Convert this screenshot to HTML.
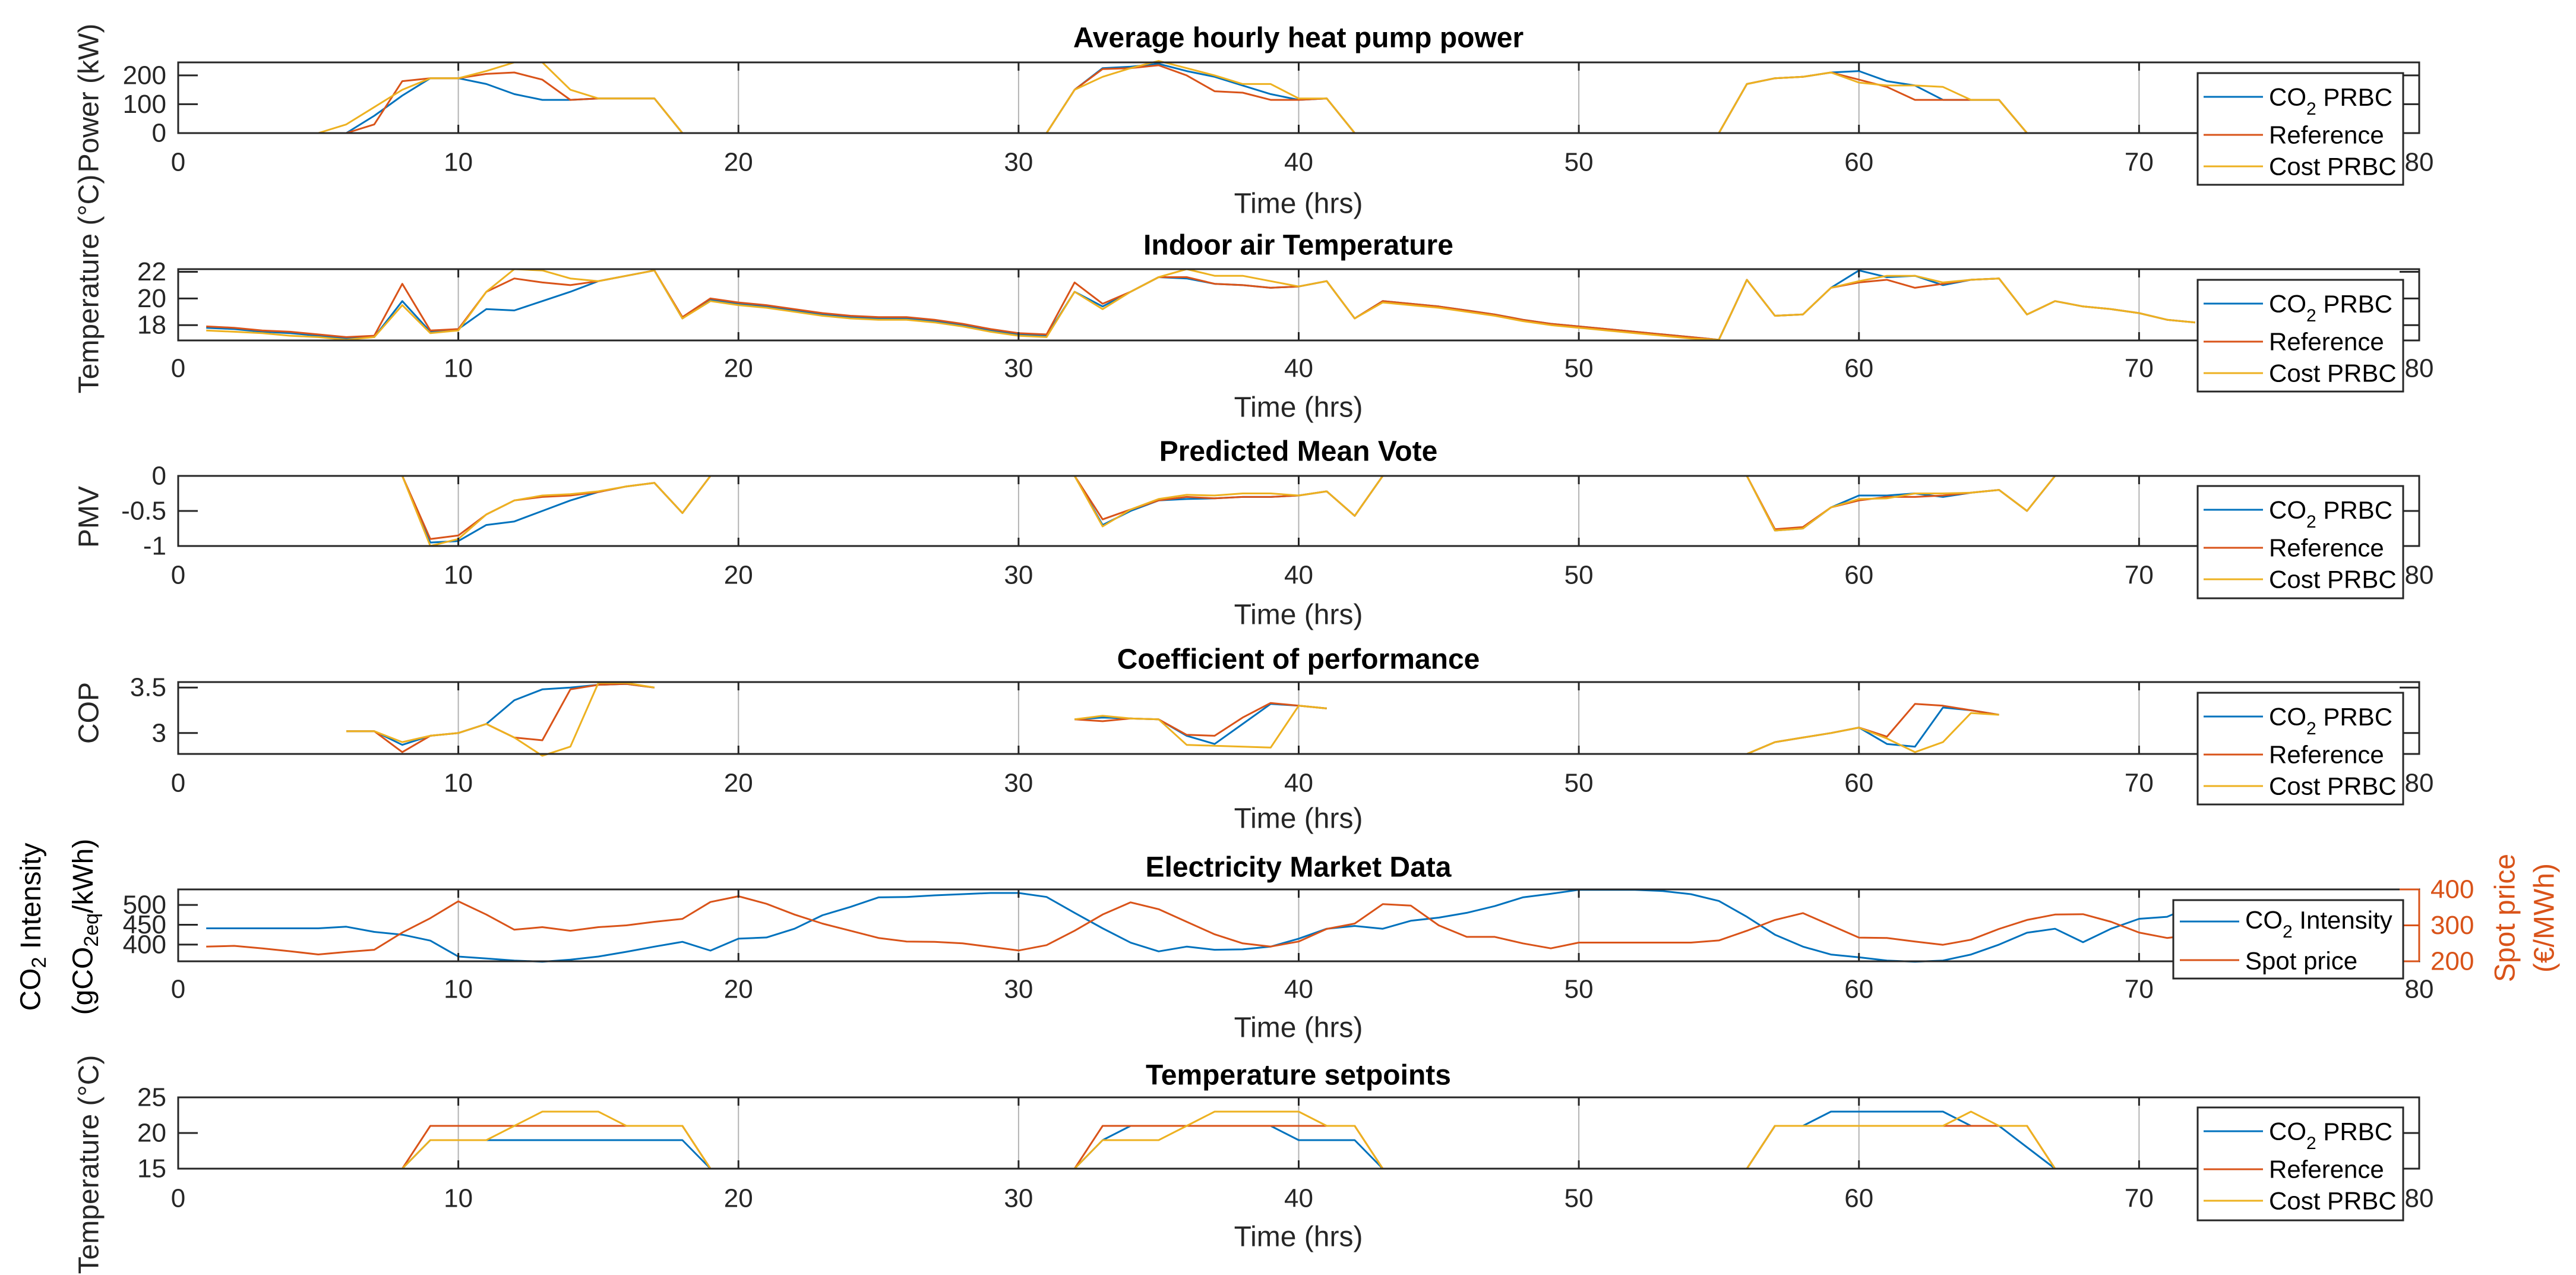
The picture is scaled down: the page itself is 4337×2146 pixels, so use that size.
<!DOCTYPE html>
<html><head><meta charset="utf-8"><style>
html,body{margin:0;padding:0;background:#fff;}
svg{display:block;font-family:"Liberation Sans",Arial,sans-serif;}
</style></head><body>
<svg id="fig" xmlns="http://www.w3.org/2000/svg" width="4337" height="2146" viewBox="0 0 4337 2146"></svg>
<script>
const hours = Array.from({length:72},(_,i)=>i+1);
const N = null;
// Panel 1: power (kW)
const powCO2 = [0,0,0,0,0,0,60,130,190,190,170,135,115,115,120,120,120,0,0,0,0,0,0,0,0,0,0,0,0,0,0,150,225,230,240,215,195,165,135,115,120,0,0,0,0,0,0,0,0,0,0,0,0,0,0,170,190,195,210,215,180,165,115,115,115,0,0,0,0,0,0,0];
const powRef = [0,0,0,0,0,0,30,180,190,190,205,210,185,115,120,120,120,0,0,0,0,0,0,0,0,0,0,0,0,0,0,150,222,225,235,200,145,140,115,115,120,0,0,0,0,0,0,0,0,0,0,0,0,0,0,170,190,195,210,185,160,115,115,115,115,0,0,0,0,0,0,0];
const powCost = [0,0,0,0,0,30,90,150,190,190,215,245,245,150,120,120,120,0,0,0,0,0,0,0,0,0,0,0,0,0,0,150,195,225,250,225,200,170,170,120,120,0,0,0,0,0,0,0,0,0,0,0,0,0,0,170,190,195,210,175,165,165,160,115,115,0,0,0,0,0,0,0];
// Panel 2: indoor temperature
const tCO2 = [17.8,17.7,17.5,17.4,17.2,17.0,17.1,19.8,17.5,17.7,19.2,19.1,19.8,20.5,21.3,21.7,22.1,18.5,19.9,19.6,19.4,19.1,18.8,18.6,18.5,18.5,18.3,18.0,17.6,17.3,17.2,20.5,19.4,20.5,21.6,21.5,21.1,21.0,20.8,20.9,21.3,18.5,19.8,19.6,19.4,19.1,18.8,18.4,18.1,17.9,17.7,17.5,17.3,17.1,16.9,21.4,18.7,18.8,20.8,22.1,21.6,21.7,21.0,21.4,21.5,18.8,19.8,19.4,19.2,18.9,18.4,18.2];
const tRef = [17.9,17.8,17.6,17.5,17.3,17.1,17.2,21.1,17.6,17.7,20.5,21.5,21.2,21.0,21.3,21.7,22.1,18.6,20.0,19.7,19.5,19.2,18.9,18.7,18.6,18.6,18.4,18.1,17.7,17.4,17.3,21.2,19.6,20.5,21.6,21.6,21.1,21.0,20.8,20.9,21.3,18.5,19.8,19.6,19.4,19.1,18.8,18.4,18.1,17.9,17.7,17.5,17.3,17.1,16.9,21.4,18.7,18.8,20.8,21.2,21.4,20.8,21.1,21.4,21.5,18.8,19.8,19.4,19.2,18.9,18.4,18.2];
const tCost = [17.6,17.5,17.4,17.2,17.1,16.9,17.1,19.5,17.4,17.6,20.5,22.2,22.1,21.5,21.3,21.7,22.1,18.5,19.8,19.5,19.3,19.0,18.7,18.5,18.4,18.4,18.2,17.9,17.5,17.2,17.1,20.5,19.2,20.5,21.6,22.2,21.7,21.7,21.3,20.9,21.3,18.5,19.7,19.5,19.3,19.0,18.7,18.3,18.0,17.8,17.6,17.4,17.2,17.0,16.9,21.4,18.7,18.8,20.8,21.3,21.7,21.7,21.2,21.4,21.5,18.8,19.8,19.4,19.2,18.9,18.4,18.2];
// Panel 3: PMV
const pmvCO2 = [0,0,0,0,0,0,0,0,-0.95,-0.93,-0.7,-0.65,-0.5,-0.35,-0.23,-0.15,-0.1,-0.53,0,0,0,0,0,0,0,0,0,0,0,0,0,0,-0.7,-0.5,-0.35,-0.33,-0.32,-0.3,-0.3,-0.28,-0.22,-0.57,0,0,0,0,0,0,0,0,0,0,0,0,0,0,-0.78,-0.75,-0.45,-0.28,-0.28,-0.25,-0.3,-0.24,-0.2,-0.5,0,0,0,0,0,0];
const pmvRef = [0,0,0,0,0,0,0,0,-0.9,-0.85,-0.55,-0.35,-0.3,-0.28,-0.23,-0.15,-0.1,-0.53,0,0,0,0,0,0,0,0,0,0,0,0,0,0,-0.62,-0.48,-0.35,-0.3,-0.32,-0.3,-0.3,-0.28,-0.22,-0.57,0,0,0,0,0,0,0,0,0,0,0,0,0,0,-0.76,-0.73,-0.45,-0.35,-0.3,-0.3,-0.28,-0.24,-0.2,-0.5,0,0,0,0,0,0];
const pmvCost = [0,0,0,0,0,0,0,0,-1.0,-0.9,-0.55,-0.35,-0.28,-0.26,-0.22,-0.15,-0.1,-0.53,0,0,0,0,0,0,0,0,0,0,0,0,0,0,-0.72,-0.48,-0.33,-0.27,-0.28,-0.25,-0.25,-0.28,-0.22,-0.57,0,0,0,0,0,0,0,0,0,0,0,0,0,0,-0.78,-0.75,-0.45,-0.33,-0.32,-0.25,-0.25,-0.24,-0.2,-0.5,0,0,0,0,0,0];
// Panel 4: COP
const copCO2 = [N,N,N,N,N,3.02,3.02,2.87,2.97,3.0,3.1,3.36,3.48,3.5,3.53,3.54,3.5,N,N,N,N,N,N,N,N,N,N,N,N,N,N,3.15,3.17,3.16,3.15,2.97,2.88,3.1,3.32,3.3,3.27,N,N,N,N,N,N,N,N,N,N,N,N,N,N,2.77,2.9,2.95,3.0,3.06,2.88,2.85,3.28,3.25,3.2,N,N,N,N,N,N,N];
const copRef = [N,N,N,N,N,3.02,3.02,2.79,2.97,3.0,3.1,2.95,2.92,3.48,3.53,3.54,3.5,N,N,N,N,N,N,N,N,N,N,N,N,N,N,3.15,3.13,3.16,3.15,2.98,2.97,3.17,3.33,3.3,3.27,N,N,N,N,N,N,N,N,N,N,N,N,N,N,2.77,2.9,2.95,3.0,3.06,2.96,3.32,3.3,3.25,3.2,N,N,N,N,N,N,N];
const copCost = [N,N,N,N,N,3.02,3.02,2.9,2.97,3.0,3.1,2.95,2.75,2.85,3.55,3.55,3.5,N,N,N,N,N,N,N,N,N,N,N,N,N,N,3.15,3.19,3.16,3.15,2.87,2.86,2.85,2.84,3.3,3.27,N,N,N,N,N,N,N,N,N,N,N,N,N,N,2.77,2.9,2.95,3.0,3.06,2.94,2.79,2.9,3.22,3.2,N,N,N,N,N,N,N];
// Panel 5: market
const co2Int = [441,441,441,441,441,445,432,425,410,370,365,360,357,362,370,382,395,407,385,415,418,440,474,495,519,520,524,527,530,530,520,480,441,405,383,395,387,388,395,415,440,447,440,460,468,480,497,519,528,538,538,538,535,527,510,470,425,395,375,368,360,357,360,375,400,430,440,406,440,465,470,500];
const spot = [241,243,236,228,219,226,232,280,320,367,330,288,295,285,295,300,310,318,365,381,360,330,305,285,265,255,254,250,240,230,245,285,330,364,345,310,275,250,241,255,290,305,359,355,300,268,268,250,236,252,252,252,252,252,258,285,315,334,300,266,265,255,246,260,290,315,330,331,310,280,265,274];
// Panel 6: setpoints
const spCO2 = [15,15,15,15,15,15,15,15,19,19,19,19,19,19,19,19,19,19,15,15,15,15,15,15,15,15,15,15,15,15,15,15,19,21,21,21,21,21,21,19,19,19,15,15,15,15,15,15,15,15,15,15,15,15,15,15,21,21,23,23,23,23,23,21,21,18,15,15,15,15,15,15];
const spRef = [15,15,15,15,15,15,15,15,21,21,21,21,21,21,21,21,21,21,15,15,15,15,15,15,15,15,15,15,15,15,15,15,21,21,21,21,21,21,21,21,21,21,15,15,15,15,15,15,15,15,15,15,15,15,15,15,21,21,21,21,21,21,21,21,21,21,15,15,15,15,15,15];
const spCost = [15,15,15,15,15,15,15,15,19,19,19,21,23,23,23,21,21,21,15,15,15,15,15,15,15,15,15,15,15,15,15,15,19,19,19,21,23,23,23,23,21,21,15,15,15,15,15,15,15,15,15,15,15,15,15,15,21,21,21,21,21,21,21,23,21,21,15,15,15,15,15,15];
const xTicks = [0,10,20,30,40,50,60,70,80];

const C_BLUE="#0072BD", C_RED="#D95319", C_YEL="#EDB120";
const svg=document.getElementById('fig');
const NS="http://www.w3.org/2000/svg";
const X0=300, X1=4073;
function xs(v){return X0+(v-0)/(80-0)*(X1-X0);}
function mk(tag,attrs,parent){const e=document.createElementNS(NS,tag);for(const k in attrs)e.setAttribute(k,attrs[k]);(parent||svg).appendChild(e);return e;}
function txt(s,x,y,size,opts,parent){opts=opts||{};const t=mk('text',{x:x,y:y,'font-size':size,'text-anchor':opts.anchor||'middle','dominant-baseline':'central',fill:opts.fill||'#262626'},parent);if(opts.bold)t.setAttribute('font-weight','bold');if(opts.rot)t.setAttribute('transform','rotate(-90 '+x+' '+y+')');t.textContent=s;return t;}

function panel(cfg){
  const g=mk('g',{});
  
  
  const top=cfg.top,bot=cfg.bot;
  const ys=v=>bot-(v-cfg.ymin)/(cfg.ymax-cfg.ymin)*(bot-top);
  xTicks.forEach(t=>{if(t>0&&t<80){const l=mk('line',{x1:xs(t),x2:xs(t),y1:top,y2:bot,stroke:'#262626','stroke-width':2,'stroke-opacity':0.35},g);
    
    }});
  cfg.series.forEach(s=>{
    let d='',pen=false;
    s.vals.forEach((v,i)=>{if(v===null){pen=false;return;}
      const px=xs(hours[i]),py=ys(s.scale?s.scale(v):v);
      d+=(pen?'L':'M')+px.toFixed(1)+' '+py.toFixed(1);pen=true;});
    const p=mk('path',{d:d,fill:'none',stroke:s.color,'stroke-width':3,'stroke-linejoin':'round'},g);
    
    
  });
  const b=mk('rect',{x:X0,y:top,width:X1-X0,height:bot-top,fill:'none',stroke:'#262626','stroke-width':3},g);
  
  
  xTicks.forEach(t=>{mk('line',{x1:xs(t),x2:xs(t),y1:bot,y2:bot-14,stroke:'#262626','stroke-width':3},g);mk('line',{x1:xs(t),x2:xs(t),y1:top,y2:top+14,stroke:'#262626','stroke-width':3},g);
    const tl=txt(String(t),xs(t),cfg.xtickY,44,{},g);
    
    });
  cfg.yticks.forEach(t=>{const y=ys(t);mk('line',{x1:X0,x2:X0+33,y1:y,y2:y,stroke:'#262626','stroke-width':3},g);
    if(!cfg.noRightTicks)mk('line',{x1:X1,x2:X1-33,y1:y,y2:y,stroke:'#262626','stroke-width':3},g);
    const tl=txt(String(t),280,y,44,{anchor:'end'},g);
    
    });
  const ti=txt(cfg.title,2186,cfg.titleY,48,{bold:true,fill:'#000'},g);
  
  
  const xl=txt('Time (hrs)',2186,cfg.xlabelY,48,{},g);
  
  
  if(cfg.ylabel){const yl=txt(cfg.ylabel,150,cfg.ylabelY,48,{rot:true},g);
    
    }
  return {g,ys};
}

function legend(g,y0,y1,entries,x0){
  x0=x0||3700;
  const lg=mk('g',{},g);
  
  
  mk('rect',{x:x0,y:y0,width:4046-x0,height:y1-y0,fill:'#fff',stroke:'#262626','stroke-width':3},lg);
  entries.forEach(e=>{
    const eg=mk('g',{},lg);
    
    
    mk('line',{x1:x0+10,x2:x0+110,y1:e.y,y2:e.y,stroke:e.color,'stroke-width':3},eg);
    const t=mk('text',{x:x0+120,y:e.y,'font-size':42,'dominant-baseline':'central',fill:'#000'},eg);
    if(e.sub){t.appendChild(document.createTextNode('CO'));const s=mk('tspan',{'font-size':30,dy:20},t);s.textContent='2';const r=mk('tspan',{dy:-20},t);r.textContent=' '+e.sub;}
    else t.textContent=e.label;
  });
}
function std3(off){return [{y:163+off,color:C_BLUE,sub:'PRBC'},{y:227+off,color:C_RED,label:'Reference'},{y:280+off,color:C_YEL,label:'Cost PRBC'}];}

let p=panel({name:'power-panel',top:105,bot:224,ymin:0,ymax:245,yticks:[0,100,200],title:'Average hourly heat pump power',titleY:64,xtickY:273,xlabelY:343,ylabel:'Power (kW)',ylabelY:165,
 series:[{id:'co2-prbc-power',vals:powCO2,color:C_BLUE},{id:'reference-power',vals:powRef,color:C_RED},{id:'cost-prbc-power',vals:powCost,color:C_YEL}]});
legend(p.g,123,311,std3(0));
p=panel({name:'indoor-temperature-panel',top:453,bot:573,ymin:16.85,ymax:22.2,yticks:[18,20,22],title:'Indoor air Temperature',titleY:413,xtickY:620,xlabelY:686,ylabel:'Temperature (°C)',ylabelY:478,
 series:[{id:'co2-prbc-temp',vals:tCO2,color:C_BLUE},{id:'reference-temp',vals:tRef,color:C_RED},{id:'cost-prbc-temp',vals:tCost,color:C_YEL}]});
legend(p.g,471,659,std3(348));
p=panel({name:'pmv-panel',top:801,bot:919,ymin:-1,ymax:0,yticks:[0,-0.5,-1],title:'Predicted Mean Vote',titleY:760,xtickY:968,xlabelY:1035,ylabel:'PMV',ylabelY:870,
 series:[{id:'co2-prbc-pmv',vals:pmvCO2,color:C_BLUE},{id:'reference-pmv',vals:pmvRef,color:C_RED},{id:'cost-prbc-pmv',vals:pmvCost,color:C_YEL}]});
legend(p.g,818,1007,std3(695));
p=panel({name:'cop-panel',top:1148,bot:1269,ymin:2.77,ymax:3.56,yticks:[3,3.5],title:'Coefficient of performance',titleY:1110,xtickY:1318,xlabelY:1378,ylabel:'COP',ylabelY:1200,
 series:[{id:'co2-prbc-cop',vals:copCO2,color:C_BLUE},{id:'reference-cop',vals:copRef,color:C_RED},{id:'cost-prbc-cop',vals:copCost,color:C_YEL}]});
legend(p.g,1166,1354,std3(1043));
const L0=358,L1=539,R0=200,R1=400;
p=panel({name:'market-panel',top:1497,bot:1618,ymin:L0,ymax:L1,yticks:[400,450,500],noRightTicks:true,title:'Electricity Market Data',titleY:1460,xtickY:1665,xlabelY:1730,
 series:[{id:'co2-intensity-line',vals:co2Int,color:C_BLUE},{id:'spot-price-line',vals:spot,color:C_RED,scale:v=>L0+(v-R0)/(R1-R0)*(L1-L0)}]});
[200,300,400].forEach(t=>{const y=1618-(t-R0)/(R1-R0)*(1618-1497);
  mk('line',{x1:X1,x2:X1-33,y1:y,y2:y,stroke:C_RED,'stroke-width':3},p.g);
  const tl=txt(String(t),4092,y,44,{anchor:'start',fill:C_RED},p.g);
  
  });
mk('line',{x1:X1,x2:X1,y1:1497,y2:1618,stroke:C_RED,'stroke-width':3},p.g);
{const t1=txt('Spot price',4218,1545,48,{rot:true,fill:C_RED},p.g);
 
 
 const t2=txt('(€/MWh)',4284,1545,48,{rot:true,fill:C_RED},p.g);
 
 
 const a=mk('text',{x:52,y:1560,'font-size':48,'text-anchor':'middle','dominant-baseline':'central',fill:'#000',transform:'rotate(-90 52 1560)'},p.g);
 
 
 a.appendChild(document.createTextNode('CO'));let s=mk('tspan',{'font-size':34,dy:14},a);s.textContent='2';let r=mk('tspan',{dy:-14},a);r.textContent='  Intensity';
 const b=mk('text',{x:140,y:1560,'font-size':48,'text-anchor':'middle','dominant-baseline':'central',fill:'#000',transform:'rotate(-90 140 1560)'},p.g);
 
 
 b.appendChild(document.createTextNode('(gCO'));s=mk('tspan',{'font-size':34,dy:14},b);s.textContent='2eq';r=mk('tspan',{dy:-14},b);r.textContent='/kWh)';
}
{const lg=mk('g',{},p.g);
 
 
 mk('rect',{x:3659,y:1515,width:4046-3659,height:1647-1515,fill:'#fff',stroke:'#262626','stroke-width':3},lg);
 mk('line',{x1:3670,x2:3770,y1:1551,y2:1551,stroke:C_BLUE,'stroke-width':3},lg);
 mk('line',{x1:3670,x2:3770,y1:1616,y2:1616,stroke:C_RED,'stroke-width':3},lg);
 const t=mk('text',{x:3780,y:1548,'font-size':42,'dominant-baseline':'central',fill:'#000'},lg);
 t.appendChild(document.createTextNode('CO'));const s=mk('tspan',{'font-size':30,dy:20},t);s.textContent='2';const r=mk('tspan',{dy:-20},t);r.textContent=' Intensity';
 const t2=mk('text',{x:3780,y:1617,'font-size':42,'dominant-baseline':'central',fill:'#000'},lg);t2.textContent='Spot price';
}
p=panel({name:'setpoints-panel',top:1847,bot:1967,ymin:15,ymax:25,yticks:[15,20,25],title:'Temperature setpoints',titleY:1810,xtickY:2017,xlabelY:2082,ylabel:'Temperature (°C)',ylabelY:1960,
 series:[{id:'co2-prbc-setpoint',vals:spCO2,color:C_BLUE},{id:'reference-setpoint',vals:spRef,color:C_RED},{id:'cost-prbc-setpoint',vals:spCost,color:C_YEL}]});
legend(p.g,1864,2054,std3(1741));
</script>
</body></html>
